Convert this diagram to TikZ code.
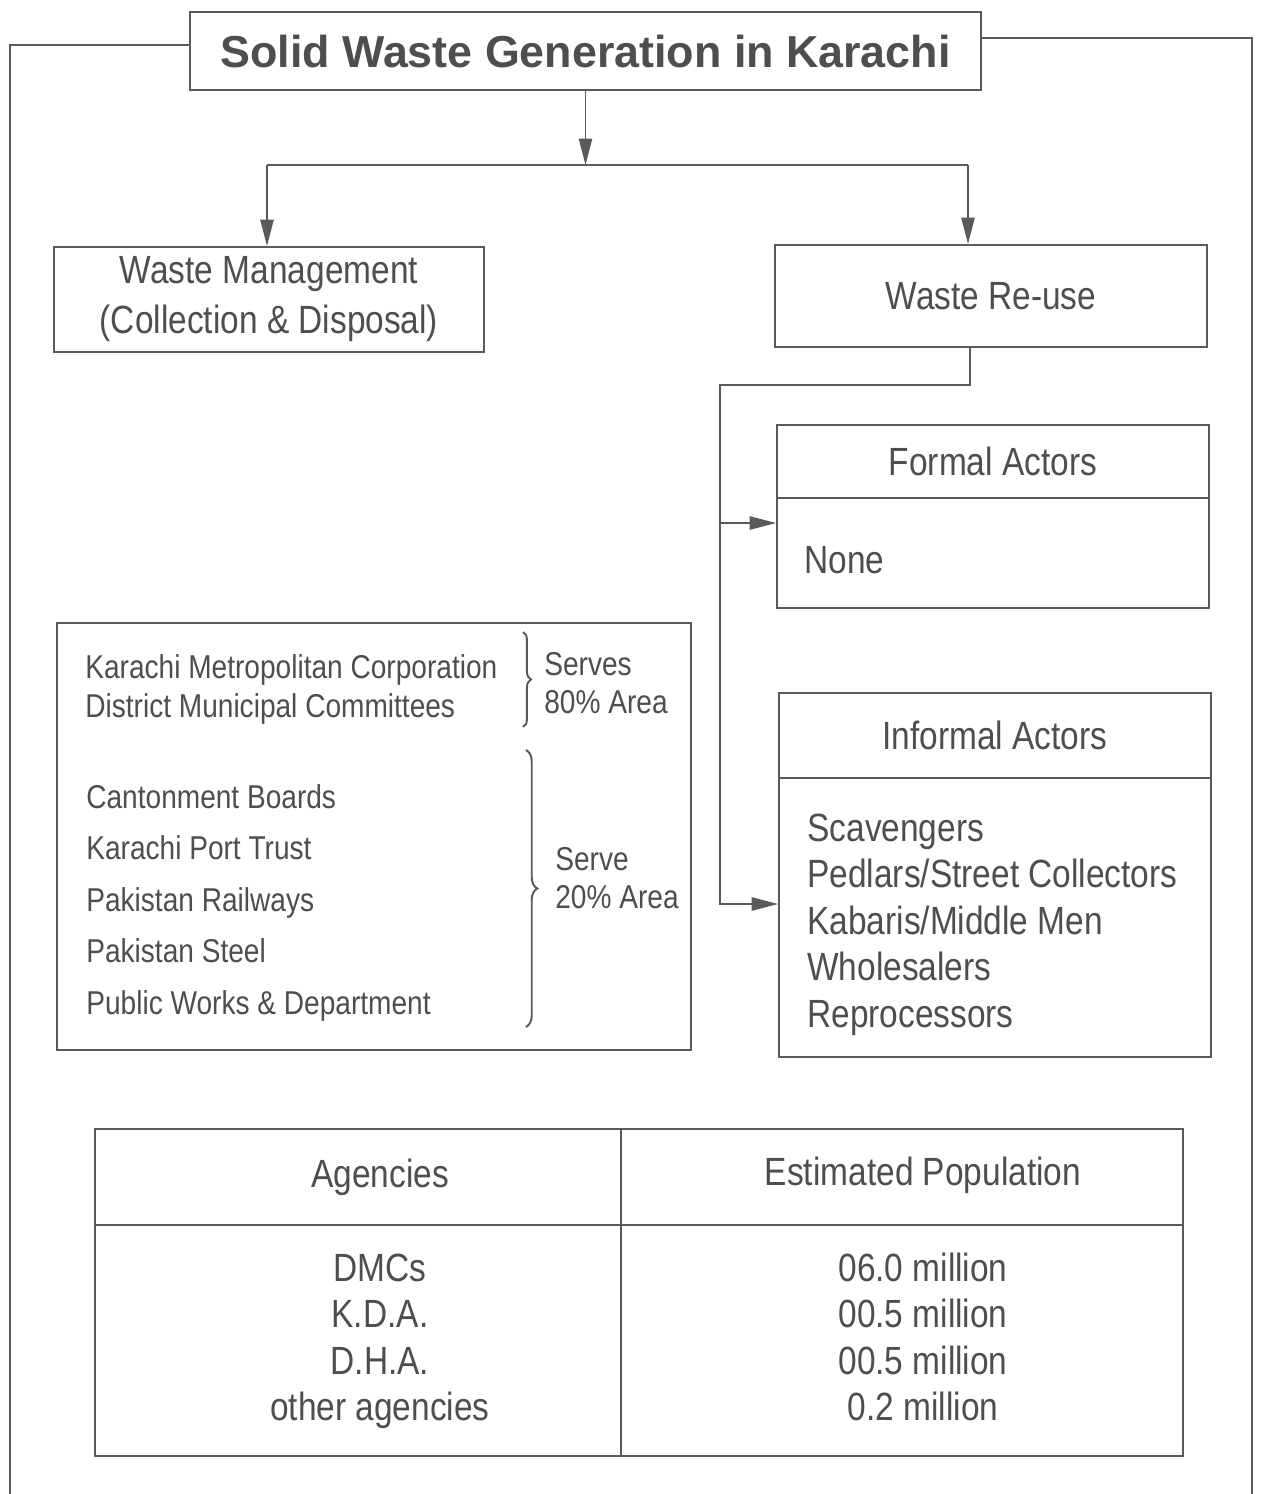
\documentclass[tikz,border=0pt]{standalone}
\usepackage{fontspec}
\setmainfont{Liberation Sans}
\newfontfamily\narrowfont{Liberation Sans}[FakeStretch=0.85]
\usepackage{xcolor}
\usetikzlibrary{arrows.meta,positioning,decorations.pathreplacing}
\definecolor{edge}{HTML}{5A5A5A}
\definecolor{ink}{HTML}{4E4E4E}

\begin{document}
\begin{tikzpicture}[
    x=0.02cm, y=-0.02cm,
    >={Triangle[length=15pt, width=7.5pt]},
    font=\narrowfont, text=ink,
    box/.style={draw=edge, line width=1.1pt, inner sep=0pt, align=center},
    headtxt/.style={font=\normalfont\bfseries\fontsize{25.5}{30}\selectfont},
    big/.style={font=\narrowfont\fontsize{22.4}{28.5}\selectfont},
    small/.style={font=\narrowfont\fontsize{18.8}{22}\selectfont},
    rowtxt/.style={inner sep=0pt, anchor=base west},
    flow/.style={->, line width=1.1pt, draw=edge},
    link/.style={line width=1.1pt, draw=edge},
    curly/.style={decorate, decoration={brace, amplitude=#1}, line width=1.1pt, draw=edge},
]
\path[use as bounding box, fill=white] (0,0) rectangle (1261,1494);

% --- title and outer frame ---
\node[box, headtxt, minimum width=15.82cm, minimum height=1.56cm] (title) at (585.5,51)
  {Solid Waste Generation in Karachi};
\coordinate (frameL) at (10,45);
\coordinate (frameLb) at (10,1494);
\coordinate (frameR) at (1252,38);
\coordinate (frameRb) at (1252,1494);
\draw[link] (title.west |- frameL) -- (frameL) -- (frameLb);
\draw[link] (title.east |- frameR) -- (frameR) -- (frameRb);

% --- the two branches ---
\node[box, big, minimum width=8.6cm, minimum height=2.1cm] (manage) at (269,299.5)
  {Waste Management\\(Collection \& Disposal)};
\node[box, big, minimum width=8.64cm, minimum height=2.04cm] (reuse) at (991,296)
  {Waste Re-use};

\coordinate (forkL) at (267,165);
\coordinate (forkR) at (968,165);
\draw[flow] (title.south) -- (title.south |- forkL);
\draw[link] (forkL) -- (forkR);
\draw[flow] (forkL) -- (forkL |- manage.north);
\draw[flow] (forkR) -- (forkR |- reuse.north);

% --- formal / informal actors ---
\node[box, big, minimum width=8.64cm, minimum height=1.46cm] (formalhead) at (993,461.5)
  {Formal Actors};
\node[box, minimum width=8.64cm, minimum height=2.2cm] (formalbody) at (993,553) {};
\node[big, rowtxt] (none) at (804,573) {None};

\node[box, big, minimum width=8.64cm, minimum height=1.7cm] (infohead) at (995,735.5)
  {Informal Actors};
\node[box, minimum width=8.64cm, minimum height=5.58cm] (infobody) at (995,917.5) {};
\foreach \actor [count=\i from 0] in {Scavengers, Pedlars/Street Collectors,
    Kabaris/Middle Men, Wholesalers, Reprocessors}
  \node[big, rowtxt] (actor\i) at (807,841+46.5*\i) {\actor};

\coordinate (drop) at (970,385);
\coordinate (spine) at (720,385);
\coordinate (inF) at ([yshift=0.6cm]formalbody.west);
\draw[flow] (reuse.south -| drop) -- (drop) -- (spine) |- ([yshift=0.27cm]infobody.west);
\draw[flow] (spine |- inF) -- (inF);

% --- collection agencies ---
\node[box, minimum width=12.68cm, minimum height=8.54cm] (agencies) at (374,836.5) {};
\node[small, rowtxt] (kmc) at (85,678) {Karachi Metropolitan Corporation};
\node[small, rowtxt] (dmc) at (85,717) {District Municipal Committees};
\node[small, rowtxt] (serves) at (544,675) {Serves};
\node[small, rowtxt] (area80) at (544,713) {80\% Area};
\draw[curly=4.5pt] (523,632) -- (523,727);

\foreach \org [count=\i from 0] in {Cantonment Boards, Karachi Port Trust,
    Pakistan Railways, Pakistan Steel, Public Works \& Department}
  \node[small, rowtxt] (org\i) at (86,808+51.5*\i) {\org};
\node[small, rowtxt] (serve) at (555,870) {Serve};
\node[small, rowtxt] (area20) at (555,908) {20\% Area};
\draw[curly=6.5pt] (526,750) -- (526,1027);

% --- population table ---
\node[box, minimum width=21.76cm, minimum height=6.54cm] (table) at (639,1292.5) {};
\coordinate (colsplit) at (621,1225);
\draw[link] (table.north -| colsplit) -- (table.south -| colsplit);
\draw[link] (table.west |- colsplit) -- (table.east |- colsplit);
\node[big, inner sep=0pt, anchor=base] (hagency) at (380,1187) {Agencies};
\node[big, inner sep=0pt, anchor=base] (hpop) at (923,1185) {Estimated Population};
\foreach \ag/\pop [count=\i from 0] in {DMCs/06.0 million, K.D.A./00.5 million,
    D.H.A./00.5 million, other agencies/0.2 million} {
  \node[big, inner sep=0pt, anchor=base] (ag\i) at (380,1281+46.5*\i) {\ag};
  \node[big, inner sep=0pt, anchor=base] (pop\i) at (923,1281+46.5*\i) {\pop};
}
\end{tikzpicture}
\end{document}
